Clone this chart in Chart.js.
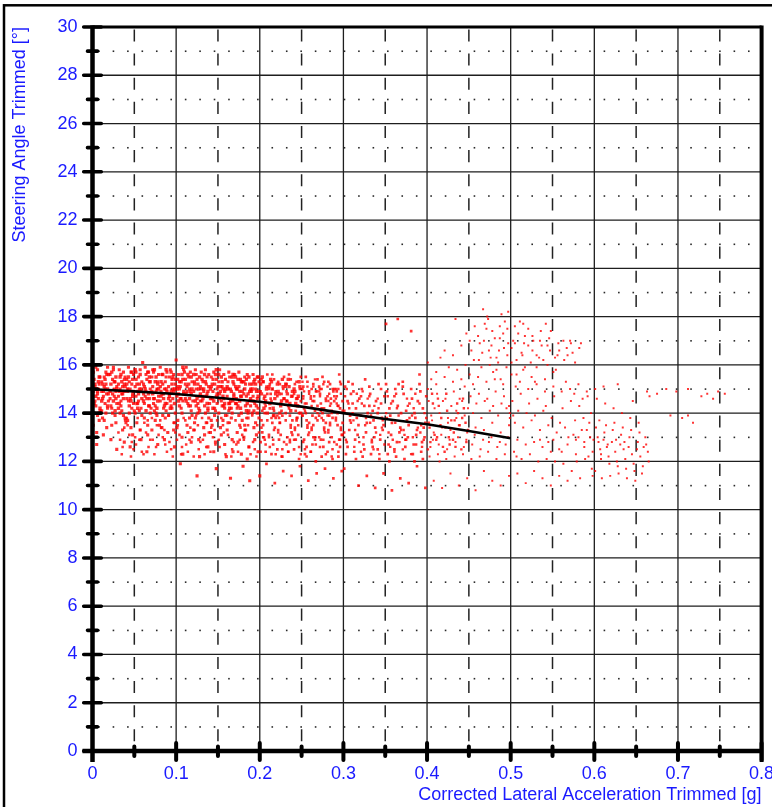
<!DOCTYPE html>
<html><head><meta charset="utf-8">
<script src="https://cdn.jsdelivr.net/npm/chart.js@4/dist/chart.umd.min.js"></script>
<style>html,body{margin:0;padding:0;background:#fff;}canvas{display:block;}</style>
</head><body>
<canvas id="c" width="772" height="807"></canvas>
<script>
const xTitle = 'Corrected Lateral Acceleration Trimmed [g]';
const yTitle = 'Steering Angle Trimmed [°]';
const xTickLabels = ['0','0.1','0.2','0.3','0.4','0.5','0.6','0.7','0.8'];
const yTickLabels = ['0','2','4','6','8','10','12','14','16','18','20','22','24','26','28','30'];

// fitted trend line
const fitAccel = [0,0.05,0.1,0.15,0.2,0.25,0.3,0.35,0.4,0.45,0.5];
const fitSteer = [14.99,14.9,14.79,14.64,14.47,14.27,14.0,13.76,13.54,13.26,12.96];

// scatter cloud, flat lists of [accel, steer] pairs
const coreCloud = [
0.001,14.9,0.002,15.4,0.004,14.3,0.006,15.8,0.008,13.7,0.003,15.1,0.007,14.6,0.009,15.5,0.005,13.2,0.002,14.0,0.006,14.8,0.008,15.2,0.001,13.5,0.004,15.9,0.009,14.1,0.005,12.7,0.003,14.5,0.007,15.0,0.000,12.9,0.000,15.6,0.006,13.9,
0.011,15.3,0.013,14.7,0.016,15.7,0.018,14.2,0.012,13.8,0.015,15.0,0.019,14.5,0.014,15.5,0.017,13.4,0.011,14.9,0.016,14.0,0.018,15.9,0.013,13.1,0.012,15.2,0.019,14.8,0.015,14.4,0.017,15.6,0.014,13.7,0.011,14.1,
0.021,14.6,0.024,15.4,0.027,13.9,0.029,15.1,0.022,14.3,0.025,15.8,0.028,14.9,0.023,13.5,0.026,15.0,0.021,15.6,0.029,14.4,0.024,14.0,0.027,15.3,0.022,12.9,0.026,14.7,0.028,13.6,0.025,15.9,0.023,14.2,0.029,12.5,
0.031,15.2,0.034,14.5,0.037,15.7,0.039,13.8,0.032,14.9,0.035,14.1,0.038,15.4,0.033,15.0,0.036,13.3,0.031,14.7,0.039,15.5,0.034,14.3,0.037,13.9,0.032,15.8,0.035,14.8,0.038,12.8,0.033,14.0,0.036,15.1,0.040,13.6,
0.041,14.6,0.044,15.3,0.047,14.2,0.049,15.6,0.042,13.7,0.045,15.0,0.048,14.8,0.043,15.9,0.046,13.4,0.041,15.4,0.049,14.4,0.044,14.0,0.047,15.2,0.042,14.9,0.046,15.7,0.048,13.1,0.043,14.5,0.045,12.6,0.050,14.1,
0.051,15.1,0.054,14.4,0.057,15.8,0.059,13.9,0.052,14.7,0.055,15.5,0.058,14.2,0.053,13.6,0.056,15.0,0.051,14.0,0.059,15.3,0.054,14.9,0.057,13.3,0.052,15.7,0.055,14.5,0.058,12.9,0.053,15.2,0.056,14.1,0.060,16.1,
0.061,14.8,0.064,15.6,0.067,14.3,0.069,15.0,0.062,13.8,0.065,15.4,0.068,14.6,0.063,15.9,0.066,13.5,0.061,15.2,0.069,14.0,0.064,14.9,0.067,15.7,0.062,14.4,0.066,13.1,0.068,15.3,0.063,14.7,0.065,12.4,0.070,14.2,
0.071,15.5,0.074,14.1,0.077,15.0,0.079,14.7,0.072,15.8,0.075,13.7,0.078,15.3,0.073,14.4,0.076,14.9,0.071,13.3,0.079,15.6,0.074,14.6,0.077,13.9,0.072,15.1,0.075,14.3,0.078,12.7,0.073,15.7,0.076,14.0,0.080,13.5,
0.081,14.5,0.084,15.2,0.087,13.8,0.089,15.7,0.082,14.9,0.085,14.2,0.088,15.5,0.083,13.4,0.086,15.0,0.081,15.9,0.089,14.4,0.084,13.9,0.087,15.3,0.082,14.7,0.086,12.9,0.088,14.1,0.083,15.6,0.085,14.8,0.090,13.2,
0.091,15.1,0.094,14.3,0.097,15.6,0.099,14.0,0.092,14.8,0.095,15.4,0.098,13.6,0.093,15.8,0.096,14.6,0.091,13.9,0.099,15.2,0.094,14.9,0.097,13.3,0.092,15.5,0.095,14.2,0.098,12.6,0.093,14.5,0.096,15.0,0.100,16.2,
0.101,14.7,0.104,15.3,0.107,14.0,0.109,15.8,0.102,13.7,0.105,15.1,0.108,14.5,0.103,15.6,0.106,14.2,0.101,13.4,0.109,14.9,0.104,15.0,0.107,13.0,0.102,15.4,0.106,14.6,0.108,12.3,0.103,14.8,0.105,11.9,0.110,15.7,
0.111,15.2,0.114,14.4,0.117,15.7,0.119,13.9,0.112,14.8,0.115,15.5,0.118,14.1,0.113,13.5,0.116,15.0,0.111,14.6,0.119,15.3,0.114,13.2,0.117,14.9,0.112,15.9,0.115,14.3,0.118,12.8,0.113,15.1,0.116,13.8,0.120,14.5,
0.121,14.9,0.124,15.6,0.127,14.2,0.129,15.1,0.122,13.6,0.125,15.4,0.128,14.7,0.123,15.8,0.126,14.0,0.121,13.3,0.129,14.5,0.124,15.0,0.127,12.9,0.122,15.3,0.126,14.4,0.128,12.2,0.123,13.8,0.125,11.4,0.130,15.7,
0.131,15.0,0.134,14.3,0.137,15.5,0.139,13.8,0.132,14.7,0.135,15.8,0.138,14.1,0.133,13.4,0.136,15.2,0.131,14.5,0.139,15.6,0.134,13.1,0.137,14.8,0.132,15.3,0.135,14.0,0.138,12.6,0.133,14.9,0.136,13.6,0.140,14.4,
0.141,14.6,0.144,15.4,0.147,14.1,0.149,15.0,0.142,13.7,0.145,15.7,0.148,14.7,0.143,15.2,0.146,13.9,0.141,13.2,0.149,14.4,0.144,14.9,0.147,12.8,0.142,15.5,0.146,14.2,0.148,11.7,0.143,13.5,0.145,12.4,0.150,15.1,
0.151,15.3,0.154,14.5,0.157,15.6,0.159,13.9,0.152,14.8,0.155,15.1,0.158,14.2,0.153,13.4,0.156,15.0,0.151,14.0,0.159,15.4,0.154,13.1,0.157,14.6,0.152,15.8,0.155,14.3,0.158,12.7,0.153,14.9,0.156,13.7,0.160,12.2,
0.161,14.7,0.164,15.5,0.167,14.0,0.169,15.2,0.162,13.6,0.165,15.0,0.168,14.5,0.163,15.7,0.166,14.2,0.161,13.3,0.169,14.8,0.164,14.4,0.167,12.9,0.162,15.3,0.166,13.8,0.168,12.4,0.163,14.1,0.165,11.3,0.170,15.6,
0.171,15.1,0.174,14.3,0.177,15.4,0.179,13.7,0.172,14.6,0.175,15.7,0.178,14.0,0.173,13.2,0.176,14.9,0.171,14.4,0.179,15.3,0.174,12.8,0.177,14.7,0.172,15.0,0.175,13.9,0.178,12.3,0.173,14.2,0.176,13.5,0.180,11.8,
0.181,14.8,0.184,15.4,0.187,14.1,0.189,15.0,0.182,13.5,0.185,15.6,0.188,14.5,0.183,15.2,0.186,13.8,0.181,13.0,0.189,14.3,0.184,14.7,0.187,12.6,0.182,15.5,0.186,14.0,0.188,11.2,0.183,13.3,0.185,12.1,0.190,14.9,
0.191,15.2,0.194,14.4,0.197,15.5,0.199,13.8,0.192,14.7,0.195,15.0,0.198,14.2,0.193,13.4,0.196,14.9,0.191,14.0,0.199,15.3,0.194,12.9,0.197,14.6,0.192,15.6,0.195,13.6,0.198,12.4,0.193,14.1,0.196,13.1,0.200,11.4
];
const coreDense = [
0.002,14.4,0.005,15.0,0.008,15.5,0.004,14.7,0.007,15.3,0.009,14.2,0.001,15.7,0.006,14.9,0.003,15.2,0.008,14.0,
0.012,14.6,0.015,15.4,0.018,14.3,0.014,15.1,0.017,14.8,0.019,15.6,0.011,14.5,0.016,15.2,0.013,14.9,0.018,15.0,
0.022,15.2,0.025,14.5,0.028,15.5,0.024,14.8,0.027,14.1,0.029,15.0,0.021,14.9,0.026,15.3,0.023,15.7,0.028,14.6,
0.032,14.4,0.035,15.3,0.038,14.9,0.034,15.6,0.037,14.6,0.039,15.1,0.031,14.2,0.036,14.8,0.033,15.5,0.038,15.2,
0.042,15.0,0.045,14.6,0.048,15.4,0.044,14.3,0.047,15.7,0.049,14.9,0.041,15.2,0.046,14.5,0.043,15.5,0.048,14.7,
0.052,15.4,0.055,14.8,0.058,15.0,0.054,14.2,0.057,15.6,0.059,14.6,0.051,15.8,0.056,15.2,0.053,14.4,0.058,14.9,
0.062,15.1,0.065,14.6,0.068,15.5,0.064,14.1,0.067,14.8,0.069,15.3,0.061,14.5,0.066,15.7,0.063,15.0,0.068,14.3,
0.072,14.8,0.075,15.3,0.078,14.5,0.074,15.8,0.077,14.2,0.079,15.0,0.071,14.9,0.076,15.5,0.073,14.6,0.078,15.2,
0.082,15.3,0.085,14.6,0.088,15.0,0.084,15.6,0.087,14.4,0.089,14.9,0.081,15.1,0.086,14.3,0.083,14.8,0.088,15.8,
0.092,14.7,0.095,15.2,0.098,14.4,0.094,15.7,0.097,14.9,0.099,15.4,0.091,14.6,0.096,15.5,0.093,14.2,0.098,15.0,
0.102,15.1,0.105,14.6,0.108,15.4,0.104,14.3,0.107,15.6,0.109,14.8,0.101,15.0,0.106,15.3,0.103,14.5,0.108,15.9,
0.112,14.5,0.115,15.2,0.118,14.8,0.114,15.6,0.117,14.3,0.119,15.0,0.111,15.4,0.116,14.6,0.113,14.9,0.118,15.5,
0.122,15.2,0.125,14.6,0.128,15.5,0.124,14.3,0.127,15.0,0.129,14.8,0.121,15.6,0.126,15.2,0.123,14.5,0.128,14.1,
0.132,14.6,0.135,15.3,0.138,14.9,0.134,15.6,0.137,14.4,0.139,15.1,0.131,15.4,0.136,14.7,0.133,15.0,0.138,14.2,
0.142,15.1,0.145,14.5,0.148,15.4,0.144,14.2,0.147,15.6,0.149,14.8,0.141,15.0,0.146,15.2,0.143,14.6,0.148,15.8,
0.152,14.6,0.155,15.3,0.158,14.9,0.154,15.5,0.157,14.3,0.159,15.0,0.151,15.6,0.156,14.7,0.153,15.1,0.158,14.4,
0.162,15.0,0.165,14.5,0.168,15.3,0.164,14.2,0.167,15.5,0.169,14.7,0.161,15.1,0.166,14.9,0.163,14.4,0.168,15.6,
0.172,14.4,0.175,15.1,0.178,14.7,0.174,15.4,0.177,14.2,0.179,14.9,0.171,15.5,0.176,14.5,0.173,15.0,0.178,15.3,
0.182,15.0,0.185,14.4,0.188,15.2,0.184,14.1,0.187,15.5,0.189,14.6,0.181,15.3,0.186,14.8,0.183,14.3,0.188,14.9,
0.192,14.5,0.195,15.2,0.198,14.7,0.194,15.4,0.197,14.0,0.199,14.9,0.191,15.0,0.196,14.3,0.193,15.3,0.198,15.5,
0.202,14.8,0.205,14.2,0.208,15.0,0.204,15.3,0.207,14.5,0.209,14.0,0.201,15.2,0.206,14.7,0.203,15.5,
0.212,14.4,0.215,15.0,0.218,14.6,0.214,15.3,0.217,13.9,0.219,14.8,0.211,15.1,0.216,14.2,0.213,15.4,
0.222,14.9,0.225,14.3,0.228,15.1,0.224,14.0,0.227,15.4,0.229,14.6,0.221,15.2,0.226,14.5,0.223,14.8,
0.232,14.5,0.235,15.1,0.238,14.7,0.234,15.4,0.237,14.1,0.239,14.9,0.231,15.2,0.236,14.4,0.233,14.8,
0.242,14.9,0.245,14.3,0.248,15.1,0.244,14.6,0.247,15.3,0.249,14.0,0.241,15.0,0.246,14.7,0.243,14.4
];
const lowerBand = [
0.031,13.2,0.036,12.6,0.039,13.7,0.033,12.9,0.038,13.4,0.035,12.3,
0.042,13.5,0.047,12.8,0.044,13.1,0.049,12.5,0.041,13.8,0.046,12.2,
0.052,12.7,0.057,13.3,0.054,13.8,0.059,12.4,0.051,13.0,0.056,12.9,
0.062,13.6,0.067,12.6,0.064,13.2,0.069,12.9,0.061,12.3,0.066,13.7,
0.072,12.9,0.077,13.5,0.074,12.3,0.079,13.1,0.071,13.8,0.076,12.6,
0.082,13.4,0.087,12.7,0.084,13.0,0.089,12.4,0.081,13.7,0.086,13.3,
0.092,12.8,0.097,13.6,0.094,12.5,0.099,13.2,0.091,13.9,0.096,12.2,
0.102,13.5,0.107,12.6,0.104,13.1,0.109,13.8,0.101,12.9,0.106,12.3,
0.112,12.7,0.117,13.4,0.114,12.4,0.119,13.0,0.111,13.7,0.116,12.9,
0.122,13.3,0.127,12.5,0.124,13.9,0.129,12.8,0.121,12.2,0.126,13.5,
0.132,12.9,0.137,13.6,0.134,12.3,0.139,13.2,0.131,13.8,0.136,12.6,
0.142,13.4,0.147,12.7,0.144,13.0,0.149,13.7,0.141,12.4,0.146,13.3,
0.152,12.6,0.157,13.2,0.154,13.8,0.159,12.3,0.151,12.9,0.156,13.5,
0.162,13.1,0.167,12.5,0.164,13.6,0.169,12.8,0.161,13.9,0.166,12.2,
0.172,12.7,0.177,13.4,0.174,12.4,0.179,13.1,0.171,13.7,0.176,12.9,
0.182,13.3,0.187,12.6,0.184,13.8,0.189,12.3,0.181,12.9,0.186,13.5,
0.192,12.8,0.197,13.5,0.194,12.5,0.199,13.2,0.191,13.9,0.196,12.2,
0.202,13.4,0.207,12.7,0.204,13.0,0.209,13.7,0.201,12.4,0.206,12.9,
0.212,12.6,0.217,13.3,0.214,13.8,0.219,12.3,0.211,13.0,0.216,12.9,
0.222,13.2,0.227,12.5,0.224,13.6,0.229,12.8,0.221,13.9,0.226,12.2,
0.232,12.7,0.237,13.4,0.234,12.4,0.239,13.1,0.231,13.7,0.236,12.9,
0.242,13.3,0.247,12.6,0.244,13.8,0.249,12.3,0.241,12.9,0.246,13.5,
0.252,12.8,0.257,13.5,0.254,12.5,0.259,13.2,0.251,13.9,0.256,12.2,
0.262,13.4,0.267,12.7,0.264,13.0,0.269,13.7,0.261,12.4,0.266,12.9,
0.272,12.6,0.277,13.3,0.274,13.8,0.279,12.3,0.271,13.0,0.276,12.9,
0.282,13.2,0.287,12.5,0.284,13.6,0.289,12.8,0.281,13.9,0.286,12.2,
0.292,12.7,0.297,13.4,0.294,12.4,0.299,13.1,0.291,13.7,0.296,12.9
];
const midCloud = [
0.201,14.9,0.204,15.3,0.207,14.3,0.209,15.6,0.202,13.7,0.205,14.6,0.208,15.1,0.203,13.2,0.206,14.0,0.201,12.8,0.209,14.8,0.204,13.5,0.207,12.4,0.202,15.4,0.206,14.4,0.208,11.9,0.203,14.1,0.205,13.0,
0.211,15.0,0.214,14.5,0.217,15.4,0.219,13.8,0.212,14.2,0.215,15.6,0.218,13.4,0.213,14.8,0.216,12.7,0.211,13.1,0.219,14.9,0.214,12.3,0.217,14.1,0.212,15.2,0.215,13.6,0.218,11.1,0.213,14.6,0.216,13.9,
0.221,14.7,0.224,15.2,0.227,13.9,0.229,15.5,0.222,13.3,0.225,14.4,0.228,15.0,0.223,12.9,0.226,14.1,0.221,12.5,0.229,14.6,0.224,13.6,0.227,12.2,0.222,15.3,0.226,14.8,0.228,11.6,0.223,13.8,0.225,13.1,
0.231,15.1,0.234,14.3,0.237,15.4,0.239,13.7,0.232,14.9,0.235,15.6,0.238,13.2,0.233,14.5,0.236,12.8,0.231,14.0,0.239,14.7,0.234,12.4,0.237,13.5,0.232,15.2,0.235,14.2,0.238,11.4,0.233,13.0,0.236,13.9,
0.241,14.8,0.244,15.3,0.247,14.0,0.249,15.5,0.242,13.4,0.245,14.6,0.248,15.0,0.243,12.9,0.246,14.3,0.241,12.5,0.249,14.5,0.244,13.7,0.247,12.1,0.242,15.2,0.246,13.1,0.248,11.8,0.243,14.1,0.245,13.8,
0.251,15.0,0.254,14.4,0.257,15.3,0.259,13.6,0.252,14.7,0.255,15.5,0.258,13.1,0.253,14.2,0.256,12.6,0.251,13.9,0.259,14.9,0.254,12.3,0.257,13.4,0.252,15.1,0.255,14.0,0.258,11.2,0.253,12.9,0.256,13.7,
0.261,14.6,0.264,15.2,0.267,13.8,0.269,15.4,0.262,13.3,0.265,14.5,0.268,14.9,0.263,12.7,0.266,14.1,0.261,12.4,0.269,14.3,0.264,13.5,0.267,12.0,0.262,15.0,0.266,13.0,0.268,11.5,0.263,13.9,0.265,14.7,
0.271,15.1,0.274,14.2,0.277,15.3,0.279,13.6,0.272,14.8,0.275,15.5,0.278,13.2,0.273,14.4,0.276,12.6,0.271,13.9,0.279,14.6,0.274,12.2,0.277,13.4,0.272,15.0,0.275,14.0,0.278,11.7,0.273,12.9,0.276,13.7,
0.281,14.7,0.284,15.2,0.287,13.8,0.289,15.0,0.282,13.3,0.285,14.4,0.288,14.9,0.283,12.8,0.286,14.1,0.281,12.4,0.289,14.5,0.284,13.5,0.287,12.1,0.282,15.3,0.286,13.0,0.288,11.3,0.283,13.9,0.285,14.6,
0.291,15.0,0.294,14.3,0.297,15.2,0.299,13.6,0.292,14.7,0.295,15.6,0.298,13.1,0.293,14.0,0.296,12.6,0.291,13.8,0.299,14.5,0.294,12.2,0.297,13.3,0.292,14.9,0.295,12.9,0.298,11.6,0.293,13.5,0.296,14.2,
0.302,15.1,0.305,14.5,0.308,13.7,0.301,14.1,0.304,12.8,0.307,13.3,0.309,14.8,0.303,12.3,0.306,15.3,0.308,13.9,0.301,11.7,0.305,12.6,
0.312,14.9,0.315,14.2,0.318,13.5,0.311,15.2,0.314,12.9,0.317,13.1,0.319,14.6,0.313,12.4,0.316,13.8,0.318,11.0,0.311,14.4,0.315,12.1,
0.322,15.0,0.325,14.3,0.328,13.6,0.321,14.7,0.324,12.7,0.327,13.2,0.329,14.0,0.323,12.2,0.326,15.4,0.328,11.4,0.321,13.9,0.325,12.5,
0.332,14.8,0.335,14.1,0.338,13.4,0.331,15.1,0.334,12.8,0.337,13.0,0.339,14.5,0.333,12.3,0.336,13.7,0.338,10.9,0.331,14.3,0.335,12.6,
0.342,15.2,0.345,14.4,0.348,13.5,0.341,14.0,0.344,12.9,0.347,13.3,0.349,14.7,0.343,12.1,0.346,13.8,0.348,11.5,0.341,12.5,0.345,15.0,
0.352,14.9,0.355,14.2,0.358,13.6,0.351,15.2,0.354,12.7,0.357,13.1,0.359,14.5,0.353,12.3,0.356,13.9,0.358,10.8,0.351,17.7,0.355,12.0,
0.362,15.0,0.365,14.3,0.368,13.4,0.361,14.7,0.364,12.8,0.367,13.2,0.369,14.0,0.363,12.2,0.366,15.2,0.368,11.3,0.361,12.5,0.365,17.9,
0.372,14.8,0.375,14.1,0.378,13.5,0.371,15.1,0.374,12.6,0.377,13.0,0.379,14.4,0.373,12.1,0.376,13.7,0.378,11.1,0.371,15.3,0.375,12.9,
0.382,14.6,0.385,14.0,0.388,13.3,0.381,15.0,0.384,12.7,0.387,13.1,0.389,14.5,0.383,12.3,0.386,13.8,0.388,11.8,0.381,17.4,0.385,12.0,
0.392,14.9,0.395,14.2,0.398,13.6,0.391,15.2,0.394,12.8,0.397,13.0,0.399,14.7,0.393,12.4,0.396,13.4,0.398,10.9,0.391,15.6,0.395,12.1
];
const midDense = [
0.252,14.6,0.257,15.1,0.254,14.1,0.259,14.8,0.251,15.3,0.256,14.4,0.253,14.9,
0.262,14.3,0.267,14.9,0.264,15.1,0.269,14.0,0.261,14.7,0.266,15.4,0.263,14.5,
0.272,14.7,0.277,14.2,0.274,15.0,0.279,14.5,0.271,14.9,0.276,15.2,0.273,14.1,
0.282,14.5,0.287,15.0,0.284,14.3,0.289,14.7,0.281,15.1,0.286,14.0,0.283,14.8,
0.292,14.4,0.297,14.8,0.294,15.0,0.299,14.1,0.291,14.6,0.296,15.3,0.293,14.3,
0.302,14.7,0.307,14.2,0.304,15.0,0.309,13.6,0.301,13.2,0.306,14.4,0.303,12.9,
0.312,13.7,0.317,14.5,0.314,13.3,0.319,12.8,0.311,14.0,0.316,14.8,0.313,12.6,
0.322,14.4,0.327,13.8,0.324,13.0,0.329,14.6,0.321,12.4,0.326,13.5,0.323,14.9,
0.332,13.6,0.337,14.3,0.334,12.9,0.339,13.2,0.331,14.7,0.336,12.5,0.333,13.9,
0.342,14.2,0.347,13.7,0.344,13.1,0.349,12.7,0.341,14.6,0.346,13.4,0.343,12.3,
0.352,13.8,0.357,14.4,0.354,13.2,0.359,12.9,0.351,14.0,0.356,12.6,0.353,14.7,
0.362,13.6,0.367,12.8,0.364,14.2,0.369,13.3,0.361,12.4,0.366,13.9,0.363,14.8,
0.372,13.3,0.377,14.3,0.374,12.9,0.379,13.8,0.371,12.5,0.376,14.6,0.373,13.1,
0.382,13.9,0.387,12.7,0.384,14.2,0.389,13.4,0.381,12.3,0.386,14.8,0.383,13.0,
0.392,13.2,0.397,14.0,0.394,12.6,0.399,13.8,0.391,14.4,0.396,12.9,0.393,13.5,
0.402,13.6,0.407,14.4,0.404,12.8,0.409,13.1,0.401,12.5,0.406,14.8,0.403,13.4,
0.412,13.0,0.417,13.8,0.414,14.3,0.419,12.6,0.411,12.9,0.416,13.5,0.413,14.6,
0.422,13.4,0.427,12.7,0.424,14.1,0.429,13.7,0.421,12.4,0.426,13.0,0.423,14.8,
0.432,13.2,0.437,14.0,0.434,12.6,0.439,13.5,0.431,12.9,0.436,14.4,0.433,13.7,
0.442,13.8,0.447,12.8,0.444,14.2,0.449,13.3,0.441,12.5,0.446,13.6,0.443,14.6
];
const outerCloud = [
0.402,14.5,0.405,13.9,0.408,13.2,0.401,15.0,0.404,12.6,0.407,12.9,0.409,14.2,0.403,12.2,0.406,13.7,0.408,11.2,0.401,16.1,0.405,15.4,
0.412,14.8,0.415,14.0,0.418,13.4,0.411,15.2,0.414,12.7,0.417,13.1,0.419,14.5,0.413,12.3,0.416,16.3,0.418,10.9,0.411,15.7,0.415,12.0,
0.422,14.6,0.425,13.8,0.428,13.3,0.421,15.5,0.424,12.5,0.427,12.9,0.429,14.3,0.423,12.1,0.426,15.9,0.428,11.5,0.421,16.6,0.425,13.6,
0.432,14.9,0.435,14.1,0.438,13.5,0.431,15.3,0.434,12.8,0.437,13.0,0.439,14.6,0.433,12.2,0.436,15.8,0.438,11.0,0.431,16.4,0.435,13.8,0.434,17.9,
0.442,14.5,0.445,13.9,0.448,13.2,0.441,15.4,0.444,12.6,0.447,12.9,0.449,14.2,0.443,12.3,0.446,16.0,0.448,11.3,0.441,16.8,0.445,15.1,0.447,17.3,
0.452,14.7,0.455,14.0,0.458,13.4,0.451,15.6,0.454,12.7,0.457,13.1,0.459,14.4,0.453,12.1,0.456,16.2,0.458,10.8,0.451,17.0,0.455,15.2,0.457,17.6,0.453,16.6,
0.462,14.8,0.465,13.8,0.468,13.3,0.461,15.5,0.464,12.5,0.467,12.9,0.469,14.5,0.463,12.2,0.466,16.5,0.468,11.6,0.461,17.2,0.465,15.9,0.467,18.3,0.463,16.9,0.469,17.7,
0.472,14.6,0.475,14.1,0.478,13.6,0.471,15.3,0.474,12.8,0.477,13.0,0.479,14.3,0.473,12.4,0.476,16.3,0.478,11.2,0.471,17.5,0.475,16.0,0.477,16.8,0.473,17.9,0.479,15.7,
0.482,14.9,0.485,13.9,0.488,13.2,0.481,15.4,0.484,12.6,0.487,12.8,0.489,14.4,0.483,12.1,0.486,16.6,0.488,11.0,0.481,17.1,0.485,16.1,0.487,17.6,0.483,15.8,0.489,18.1,
0.492,14.7,0.495,14.2,0.498,13.5,0.491,15.2,0.494,12.7,0.497,13.0,0.499,14.0,0.493,12.3,0.496,16.4,0.498,11.4,0.491,17.3,0.495,15.9,0.497,16.9,0.493,17.8,0.499,13.8,0.498,14.3,
0.502,14.5,0.505,13.6,0.508,12.9,0.501,15.6,0.504,12.4,0.507,16.2,0.509,14.1,0.503,17.0,0.506,15.1,0.508,11.5,0.501,16.7,0.505,17.6,0.507,12.2,0.503,13.9,
0.512,14.8,0.515,13.4,0.518,12.7,0.511,15.3,0.514,16.4,0.517,17.2,0.519,14.0,0.513,12.1,0.516,16.9,0.518,11.1,0.511,17.8,0.515,15.8,
0.522,14.4,0.525,13.7,0.528,12.8,0.521,15.0,0.524,16.1,0.527,17.0,0.529,13.9,0.523,12.3,0.526,16.6,0.528,11.6,0.521,17.5,0.525,15.5,
0.532,14.6,0.535,13.3,0.538,12.6,0.531,15.2,0.534,16.3,0.537,16.8,0.539,14.1,0.533,12.0,0.536,17.4,0.538,11.3,0.531,15.9,0.535,12.9,
0.542,14.3,0.545,13.5,0.548,12.4,0.541,15.4,0.544,16.0,0.547,16.6,0.549,13.8,0.543,12.1,0.546,17.1,0.548,11.0,0.541,14.9,0.545,12.8,
0.552,14.7,0.555,13.2,0.558,12.5,0.551,15.1,0.554,15.8,0.557,16.9,0.559,13.6,0.553,12.0,0.556,16.4,0.558,11.4,0.551,12.9,
0.562,14.2,0.565,13.4,0.568,12.7,0.561,14.9,0.564,16.2,0.567,16.7,0.569,13.0,0.563,11.9,0.566,15.3,0.568,11.2,0.561,12.4,
0.572,14.5,0.575,13.1,0.578,12.3,0.571,15.0,0.574,16.5,0.577,13.7,0.579,12.0,0.573,11.6,0.576,14.8,0.578,12.9,0.571,17.0,
0.582,14.3,0.585,13.3,0.588,12.6,0.581,15.2,0.584,16.9,0.587,13.8,0.589,12.1,0.583,11.3,0.586,14.6,0.588,12.8,0.581,13.0,
0.592,14.7,0.595,13.0,0.598,12.4,0.591,14.9,0.594,13.6,0.597,11.7,0.599,12.9,0.593,12.2,0.596,14.0,0.598,11.4,0.591,13.3
];
const upperCluster = [
0.462,16.2,0.468,17.0,0.474,16.6,0.478,17.4,0.483,16.3,0.487,17.1,0.492,16.7,0.496,17.5,0.501,16.1,0.505,16.9,0.509,17.3,0.513,16.5,
0.517,15.9,0.521,16.8,0.526,17.2,0.531,16.4,0.535,17.0,0.539,16.2,0.544,16.8,0.548,17.4,0.553,16.3,0.558,16.6,0.563,17.0,0.568,16.4,
0.572,16.9,0.577,16.1,0.582,16.7,0.488,15.4,0.507,15.6,0.529,15.3,0.551,15.7,0.472,18.0,0.497,18.2,0.515,17.7,0.542,17.7
];
const tailCloud = [
0.602,13.4,0.605,12.8,0.608,12.1,0.601,11.6,0.604,13.0,0.607,12.5,0.609,11.3,0.603,14.6,0.606,13.7,0.608,12.3,0.601,15.0,
0.612,13.2,0.615,12.6,0.618,11.9,0.611,12.9,0.614,13.5,0.617,12.2,0.619,11.4,0.613,14.4,0.616,12.7,0.611,15.1,
0.622,13.3,0.625,12.4,0.628,11.8,0.621,12.8,0.624,13.6,0.627,12.0,0.629,11.5,0.623,14.2,0.626,12.9,0.628,15.2,
0.632,13.1,0.635,12.5,0.638,11.7,0.631,12.7,0.634,13.4,0.637,12.1,0.639,11.3,0.633,14.0,0.636,12.8,
0.642,13.0,0.645,12.3,0.648,11.6,0.641,12.6,0.644,13.3,0.647,11.9,0.649,11.2,0.643,13.8,0.646,14.5,
0.652,12.8,0.655,12.2,0.658,11.8,0.651,12.5,0.654,13.2,0.657,11.5,0.659,12.6,0.653,13.6,
0.662,12.7,0.665,12.0,0.661,13.0,0.664,12.4,0.663,14.9,0.666,14.7,
0.675,14.8,0.686,15.0,0.691,13.9,0.698,14.9,0.705,13.8,0.712,13.9,0.718,13.6,0.712,15.0,0.728,14.7,0.735,14.8,0.742,14.6,0.748,14.9,0.756,14.8
];

function toPoints(flat){ const out=[]; for(let i=0;i<flat.length;i+=2) out.push({x:flat[i], y:flat[i+1]}); return out; }
const fitPoints = fitAccel.map((x,i)=>({x:x, y:fitSteer[i]}));

const FONT = "'Liberation Sans', Arial, sans-serif";
const BLUE = '#1a1aff';

const framePlugin = {
  id: 'frameGrid',
  beforeDraw(chart){
    const ctx = chart.ctx;
    ctx.save();
    ctx.fillStyle = '#fff';
    ctx.fillRect(0,0,chart.width,chart.height);
    ctx.strokeStyle = '#000';
    ctx.lineWidth = 2.5;
    ctx.strokeRect(4, 5.3, chart.width + 40, chart.height + 40);
    ctx.restore();
  },
  beforeDatasetsDraw(chart){
    const ctx = chart.ctx, xs = chart.scales.x, ys = chart.scales.y;
    const a = chart.chartArea;
    ctx.save();
    ctx.fillStyle = '#2a2a2a';
    for (let v = 1; v < 30; v += 2){
      const py = ys.getPixelForValue(v);
      for (let px = a.left + 6.4; px < a.right - 3; px += 14.44){
        ctx.fillRect(px - 0.7, py - 0.7, 1.6, 1.6);
      }
    }
    ctx.strokeStyle = '#222';
    ctx.lineWidth = 1.5;
    for (let k = 0; k < 8; k++){
      const px = xs.getPixelForValue(0.05 + 0.1*k);
      ctx.beginPath();
      for (let v = 0; v < 30; v++){
        ctx.moveTo(px, ys.getPixelForValue(v + 0.4));
        ctx.lineTo(px, ys.getPixelForValue(v + 0.9));
      }
      ctx.stroke();
    }
    ctx.strokeStyle = '#1e1e1e';
    ctx.lineWidth = 1.3;
    ctx.beginPath();
    for (let k = 1; k < 8; k++){
      const px = xs.getPixelForValue(0.1*k);
      ctx.moveTo(px, a.top); ctx.lineTo(px, a.bottom);
    }
    for (let v = 2; v < 30; v += 2){
      const py = ys.getPixelForValue(v);
      ctx.moveTo(a.left, py); ctx.lineTo(a.right, py);
    }
    ctx.stroke();
    ctx.restore();
  },
  afterDatasetsDraw(chart){
    const ctx = chart.ctx, xs = chart.scales.x, ys = chart.scales.y;
    const a = chart.chartArea;
    const x0 = xs.getPixelForValue(0), y0 = ys.getPixelForValue(0);
    ctx.save();
    ctx.strokeStyle = '#000';
    ctx.lineWidth = 3;
    ctx.beginPath(); ctx.moveTo(x0, a.top); ctx.lineTo(a.right, a.top); ctx.stroke();
    ctx.lineWidth = 4;
    ctx.beginPath(); ctx.moveTo(a.right, a.top - 1.5); ctx.lineTo(a.right, y0 + 11); ctx.stroke();
    ctx.lineWidth = 4.5;
    ctx.beginPath(); ctx.moveTo(x0, a.top - 1.5); ctx.lineTo(x0, y0 + 11); ctx.stroke();
    ctx.beginPath(); ctx.moveTo(x0 - 10, y0); ctx.lineTo(a.right, y0); ctx.stroke();
    ctx.lineCap = 'round';
    ctx.lineWidth = 3.6;
    ctx.beginPath();
    for (let v = 0; v <= 30; v++){
      const py = ys.getPixelForValue(v);
      const h = (v % 2 === 0) ? 8.8 : 5;
      ctx.moveTo(x0 - h, py); ctx.lineTo(x0 + h, py);
    }
    ctx.stroke();
    ctx.lineWidth = 4;
    ctx.beginPath();
    for (let k = 1; k <= 16; k++){
      const px = xs.getPixelForValue(0.05*k);
      if (k % 2 === 0){ ctx.moveTo(px, y0 - 8); ctx.lineTo(px, y0 + 9); }
      else { ctx.moveTo(px, y0 - 4.5); ctx.lineTo(px, y0 + 5); }
    }
    ctx.stroke();
    ctx.restore();
  }
};

const RED = 'rgba(255,0,0,0.8)';
function cloudSet(label, flat, r){
  return { label: label, data: toPoints(flat), pointStyle: 'rect', pointRadius: r, pointBorderWidth: 0, backgroundColor: RED, borderColor: 'rgba(0,0,0,0)' };
}

new Chart(document.getElementById('c'), {
  type: 'scatter',
  data: {
    datasets: [
      { type: 'line', label: 'Fit', data: fitPoints, borderColor: '#000', borderWidth: 2.6, pointRadius: 0, fill: false, tension: 0 },
      cloudSet('core', coreCloud, 2.2),
      cloudSet('coreDense', coreDense, 2.4),
      cloudSet('lower', lowerBand, 1.8),
      cloudSet('mid', midCloud, 1.9),
      cloudSet('midDense', midDense, 1.7),
      cloudSet('outer', outerCloud, 1.4),
      cloudSet('upper', upperCluster, 1.4),
      cloudSet('tail', tailCloud, 1.4)
    ]
  },
  options: {
    responsive: false,
    animation: false,
    devicePixelRatio: 1,
    layout: { padding: { top: 27, right: 10.4, left: 0, bottom: 0 } },
    plugins: { legend: { display: false }, tooltip: { enabled: false } },
    scales: {
      x: {
        type: 'linear', min: 0, max: 0.8,
        grid: { display: false, drawTicks: false },
        border: { display: false },
        ticks: { stepSize: 0.1, autoSkip: false, maxRotation: 0, padding: 12, color: BLUE, font: { family: FONT, size: 18 },
                 callback: (v, i) => xTickLabels[i] },
        title: { display: true, text: xTitle, align: 'end', color: BLUE, font: { family: FONT, size: 18 }, padding: { top: 0, bottom: 1 } },
        afterFit(s){ s.height = 56; s.paddingLeft = 0; s.paddingRight = 0; }
      },
      y: {
        type: 'linear', min: 0, max: 30,
        grid: { display: false, drawTicks: false },
        border: { display: false },
        ticks: { stepSize: 2, autoSkip: false, padding: 15, color: BLUE, font: { family: FONT, size: 18 },
                 callback: (v, i) => yTickLabels[i] },
        title: { display: true, text: yTitle, align: 'end', color: BLUE, font: { family: FONT, size: 18 }, padding: { top: 9, bottom: 0 } },
        afterFit(s){ s.width = 92.5; s.paddingTop = 0; s.paddingBottom = 0; }
      }
    }
  },
  plugins: [framePlugin]
});
</script>
</body></html>
